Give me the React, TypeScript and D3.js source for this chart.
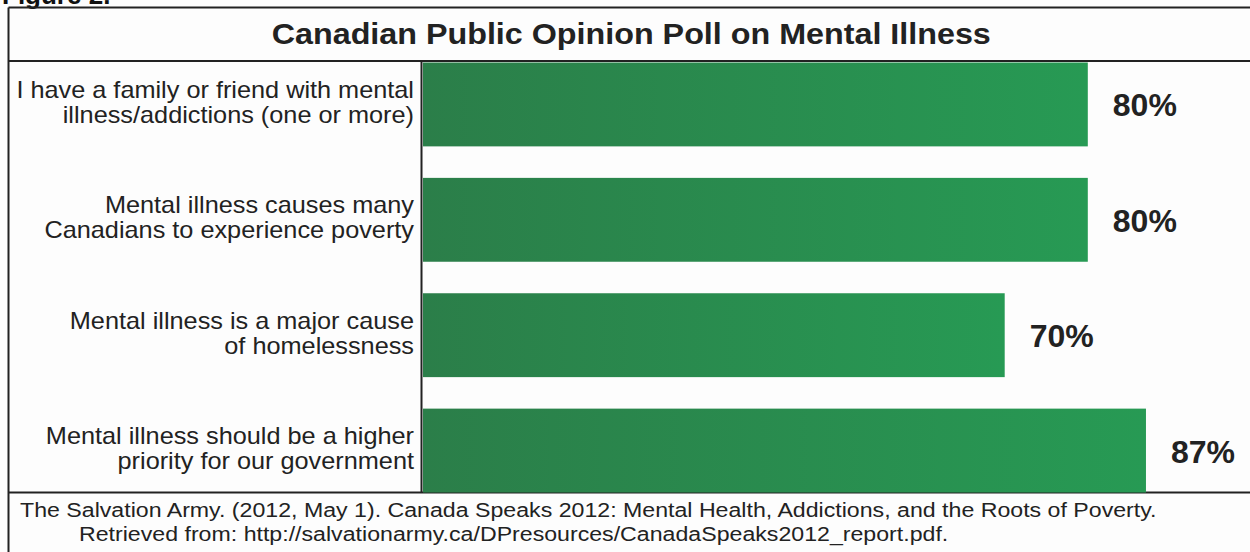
import React from "react";
import * as d3 from "d3";

const categories: string[][] = [
  ["I have a family or friend with mental", "illness/addictions (one or more)"],
  ["Mental illness causes many", "Canadians to experience poverty"],
  ["Mental illness is a major cause", "of homelessness"],
  ["Mental illness should be a higher", "priority for our government"],
];
const values: number[] = [80, 80, 70, 87];
const titleText = "Canadian Public Opinion Poll on Mental Illness";
const figureLabel = "Figure 2.";
const sourceLines: string[] = [
  "The Salvation Army. (2012, May 1). Canada Speaks 2012: Mental Health, Addictions, and the Roots of Poverty.",
  "Retrieved from: http://salvationarmy.ca/DPresources/CanadaSpeaks2012_report.pdf.",
];

const W = 1250;
const H = 552;
const FONT = "'Liberation Sans', Arial, Helvetica, sans-serif";

export default function App() {
  const boxLeft = 8.5;
  const boxRight = 1254;
  const boxTop = 7.5;
  const titleSep = 61;
  const axisX = 421.5;
  const plotBottom = 492.5;

  const x = d3.scaleLinear().domain([0, 100]).range([423, 1254]);
  const y = d3
    .scaleBand<number>()
    .domain(d3.range(values.length))
    .range([62.5, plotBottom])
    .paddingInner(0.273)
    .paddingOuter(0);

  return (
    <svg
      width={W}
      height={H}
      style={{ position: "absolute", left: 0, top: 0, background: "#fdfdfd" }}
    >
      <defs>
        <linearGradient id="barGrad" x1="0" x2="1" y1="0" y2="0">
          <stop offset="0%" stopColor="#2b7e49" />
          <stop offset="100%" stopColor="#279a54" />
        </linearGradient>
      </defs>
      <rect x={0} y={0} width={W} height={H} fill="#fdfdfd" />
      <text
        x={2}
        y={4}
        fontFamily={FONT}
        fontWeight="bold"
        fontSize={26}
        fill="#111"
      >
        {figureLabel}
      </text>
      {/* outer box */}
      <line x1={boxLeft} x2={boxRight} y1={boxTop} y2={boxTop} stroke="#222" strokeWidth={2} />
      <line x1={boxLeft} x2={boxLeft} y1={boxTop} y2={H + 5} stroke="#222" strokeWidth={2} />
      <line x1={boxLeft} x2={boxRight} y1={titleSep} y2={titleSep} stroke="#222" strokeWidth={2} />
      <line x1={boxLeft} x2={boxRight} y1={plotBottom} y2={plotBottom} stroke="#222" strokeWidth={2} />
      <g transform={`translate(${(boxLeft + boxRight) / 2},44) scale(1.076,1)`}>
        <text
          x={0}
          y={0}
          textAnchor="middle"
          fontFamily={FONT}
          fontWeight="bold"
          fontSize={30}
          fill="#222"
        >
          {titleText}
        </text>
      </g>
      {/* bars */}
      {values.map((v, i) => (
        <rect
          key={"b" + i}
          x={x(0)}
          y={y(i)}
          width={x(v) - x(0)}
          height={y.bandwidth()}
          fill="url(#barGrad)"
        />
      ))}
      {values.map((v, i) => (
        <text
          key={"v" + i}
          x={x(v) + 25}
          y={(y(i) as number) + y.bandwidth() / 2 + 12}
          fontFamily={FONT}
          fontWeight="bold"
          fontSize={32}
          fill="#222"
        >
          {v + "%"}
        </text>
      ))}
      {categories.map((lines, i) => {
        const cy = (y(i) as number) + y.bandwidth() / 2;
        return (
          <g key={"c" + i} transform={`translate(414,${cy}) scale(1.1,1)`}>
            <text textAnchor="end" fontFamily={FONT} fontSize={23} fill="#222">
              {lines.map((ln, j) => (
                <tspan key={j} x={0} y={-6.5 + j * 25}>
                  {ln}
                </tspan>
              ))}
            </text>
          </g>
        );
      })}
      <line x1={axisX} x2={axisX} y1={titleSep} y2={plotBottom} stroke="#222" strokeWidth={2} />
      {/* source */}
      <g transform="translate(20,0) scale(1.158,1)">
        <text fontFamily={FONT} fontSize={20} fill="#222">
          <tspan x={0} y={517}>
            {sourceLines[0]}
          </tspan>
          <tspan x={(79 - 20) / 1.158} y={541}>
            {sourceLines[1]}
          </tspan>
        </text>
      </g>
    </svg>
  );
}
